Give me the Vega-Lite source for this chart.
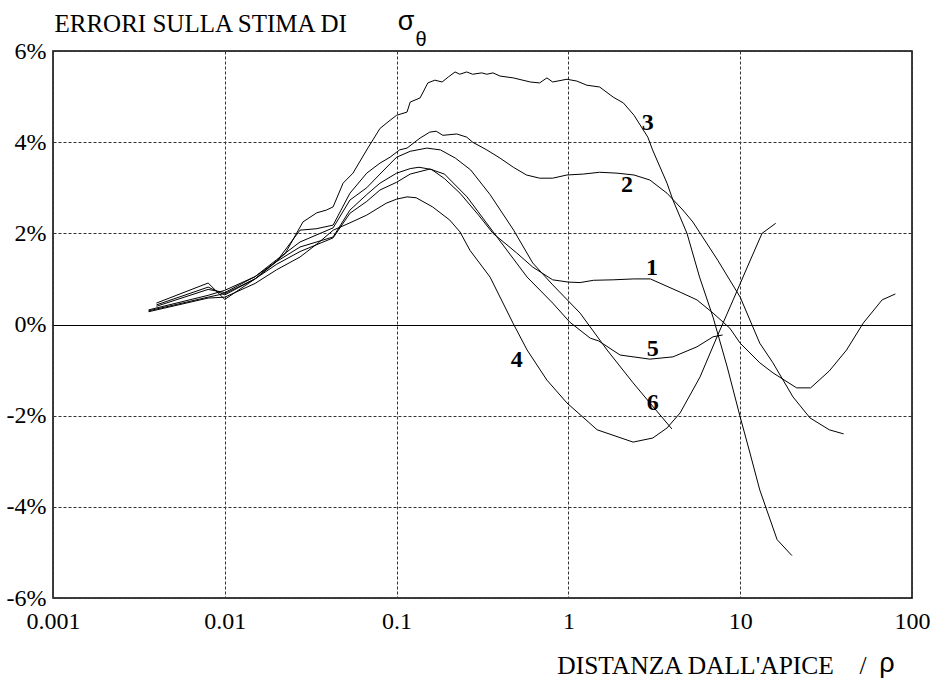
{
  "$schema": "https://vega.github.io/schema/vega-lite/v6.json",
  "width": 859,
  "height": 547,
  "autosize": "none",
  "padding": {"left": 53, "top": 51, "right": 28, "bottom": 81},
  "background": "white",
  "config": {"view": {"stroke": "black", "strokeWidth": 1.5}, "font": "Liberation Serif, Times New Roman, serif"},
  "encoding": {
    "x": {"field": "x", "type": "quantitative",
      "scale": {"type": "log", "domain": [0.001, 100], "nice": false},
      "axis": {"values": [0.001, 0.01, 0.1, 1, 10, 100], "format": "~g", "labelFlush": false, "labelOverlap": false,
        "domain": false, "ticks": false, "labelPadding": 11, "labelFont": "Liberation Serif, Times New Roman, serif", "labelFontSize": 24, "labelColor": "black",
        "grid": true, "gridColor": "#333", "gridDash": [3, 2], "gridOpacity": 1, "gridWidth": 1,
        "title": "DISTANZA DALL'APICE\u00a0\u00a0\u00a0\u00a0/", "titleFont": "Liberation Serif, Times New Roman, serif", "titleFontSize": 25.5, "titleFontWeight": "normal", "titleColor": "black",
        "titleX": 813, "titleY": 75, "titleAlign": "right", "titleBaseline": "alphabetic"}},
    "y": {"field": "y", "type": "quantitative",
      "scale": {"domain": [-6, 6], "nice": false, "zero": false},
      "axis": {"values": [-6, -4, -2, 0, 2, 4, 6], "labelExpr": "datum.value + '%'", "domain": false, "ticks": false, "labelPadding": 7,
        "labelFont": "Liberation Serif, Times New Roman, serif", "labelFontSize": 24, "labelColor": "black",
        "grid": true, "gridOpacity": 1, "gridWidth": 1,
        "gridDash": {"condition": {"test": "datum.value === 0", "value": []}, "value": [3, 2]},
        "gridColor": {"condition": {"test": "datum.value === 0", "value": "black"}, "value": "#333"},
        "title": "ERRORI SULLA STIMA DI", "titleAngle": 0, "titleAlign": "left", "titleBaseline": "alphabetic",
        "titleX": 1, "titleY": -20, "titleFont": "Liberation Serif, Times New Roman, serif", "titleFontSize": 25, "titleFontWeight": "normal", "titleColor": "black"}}
  },
  "layer": [
    {
      "data": {"values": [
        {"c":"3","x":0.004,"y":0.47},{"c":"3","x":0.008,"y":0.91},{"c":"3","x":0.01,"y":0.55},{"c":"3","x":0.015,"y":1.0},{"c":"3","x":0.0224,"y":1.55},{"c":"3","x":0.0285,"y":2.25},{"c":"3","x":0.0343,"y":2.45},{"c":"3","x":0.039,"y":2.51},{"c":"3","x":0.0427,"y":2.58},{"c":"3","x":0.0488,"y":3.1},{"c":"3","x":0.0557,"y":3.32},{"c":"3","x":0.067,"y":3.83},{"c":"3","x":0.08,"y":4.3},{"c":"3","x":0.0916,"y":4.48},{"c":"3","x":0.1,"y":4.59},{"c":"3","x":0.115,"y":4.66},{"c":"3","x":0.12,"y":4.88},{"c":"3","x":0.137,"y":4.97},{"c":"3","x":0.152,"y":5.3},{"c":"3","x":0.167,"y":5.36},{"c":"3","x":0.184,"y":5.32},{"c":"3","x":0.2,"y":5.43},{"c":"3","x":0.219,"y":5.54},{"c":"3","x":0.233,"y":5.49},{"c":"3","x":0.256,"y":5.54},{"c":"3","x":0.277,"y":5.49},{"c":"3","x":0.313,"y":5.52},{"c":"3","x":0.335,"y":5.49},{"c":"3","x":0.364,"y":5.52},{"c":"3","x":0.4,"y":5.45},{"c":"3","x":0.478,"y":5.41},{"c":"3","x":0.6,"y":5.32},{"c":"3","x":0.68,"y":5.3},{"c":"3","x":0.75,"y":5.41},{"c":"3","x":0.81,"y":5.32},{"c":"3","x":0.98,"y":5.38},{"c":"3","x":1.12,"y":5.34},{"c":"3","x":1.28,"y":5.25},{"c":"3","x":1.52,"y":5.21},{"c":"3","x":1.82,"y":4.99},{"c":"3","x":2.09,"y":4.86},{"c":"3","x":2.41,"y":4.59},{"c":"3","x":2.9,"y":4.11},{"c":"3","x":3.09,"y":3.83},{"c":"3","x":3.75,"y":3.1},{"c":"3","x":4.06,"y":2.73},{"c":"3","x":4.9,"y":2.0},{"c":"3","x":5.8,"y":1.04},{"c":"3","x":6.95,"y":0.16},{"c":"3","x":8.4,"y":-0.93},{"c":"3","x":10,"y":-2.03},{"c":"3","x":11.4,"y":-2.82},{"c":"3","x":13,"y":-3.63},{"c":"3","x":16.4,"y":-4.72},{"c":"3","x":20,"y":-5.07},
        {"c":"2","x":0.004,"y":0.43},{"c":"2","x":0.008,"y":0.82},{"c":"2","x":0.01,"y":0.65},{"c":"2","x":0.015,"y":1.0},{"c":"2","x":0.02,"y":1.38},{"c":"2","x":0.0274,"y":2.07},{"c":"2","x":0.034,"y":2.1},{"c":"2","x":0.0427,"y":2.18},{"c":"2","x":0.0535,"y":2.88},{"c":"2","x":0.067,"y":3.32},{"c":"2","x":0.08,"y":3.54},{"c":"2","x":0.0916,"y":3.67},{"c":"2","x":0.104,"y":3.83},{"c":"2","x":0.115,"y":3.87},{"c":"2","x":0.137,"y":4.09},{"c":"2","x":0.156,"y":4.22},{"c":"2","x":0.17,"y":4.24},{"c":"2","x":0.186,"y":4.15},{"c":"2","x":0.224,"y":4.18},{"c":"2","x":0.256,"y":4.11},{"c":"2","x":0.277,"y":4.0},{"c":"2","x":0.335,"y":3.83},{"c":"2","x":0.4,"y":3.65},{"c":"2","x":0.478,"y":3.45},{"c":"2","x":0.57,"y":3.28},{"c":"2","x":0.68,"y":3.21},{"c":"2","x":0.81,"y":3.21},{"c":"2","x":0.98,"y":3.28},{"c":"2","x":1.22,"y":3.3},{"c":"2","x":1.52,"y":3.34},{"c":"2","x":1.92,"y":3.32},{"c":"2","x":2.41,"y":3.28},{"c":"2","x":2.98,"y":3.17},{"c":"2","x":3.75,"y":2.88},{"c":"2","x":4.64,"y":2.51},{"c":"2","x":5.3,"y":2.25},{"c":"2","x":7.4,"y":1.41},{"c":"2","x":10,"y":0.6},{"c":"2","x":13,"y":-0.41},{"c":"2","x":15.5,"y":-0.84},{"c":"2","x":20.3,"y":-1.59},{"c":"2","x":25.5,"y":-2.05},{"c":"2","x":33,"y":-2.31},{"c":"2","x":40,"y":-2.4},
        {"c":"6","x":0.004,"y":0.4},{"c":"6","x":0.008,"y":0.77},{"c":"6","x":0.01,"y":0.7},{"c":"6","x":0.015,"y":1.05},{"c":"6","x":0.02,"y":1.42},{"c":"6","x":0.0274,"y":1.81},{"c":"6","x":0.0427,"y":2.12},{"c":"6","x":0.0535,"y":2.73},{"c":"6","x":0.067,"y":3.0},{"c":"6","x":0.08,"y":3.3},{"c":"6","x":0.1,"y":3.67},{"c":"6","x":0.12,"y":3.8},{"c":"6","x":0.15,"y":3.87},{"c":"6","x":0.18,"y":3.83},{"c":"6","x":0.22,"y":3.65},{"c":"6","x":0.27,"y":3.39},{"c":"6","x":0.35,"y":2.85},{"c":"6","x":0.48,"y":2.07},{"c":"6","x":0.62,"y":1.35},{"c":"6","x":0.81,"y":0.87},{"c":"6","x":1.17,"y":0.25},{"c":"6","x":1.68,"y":-0.56},{"c":"6","x":2.38,"y":-1.28},{"c":"6","x":2.98,"y":-1.72},{"c":"6","x":4.0,"y":-2.29},
        {"c":"1","x":0.0036,"y":0.32},{"c":"1","x":0.008,"y":0.64},{"c":"1","x":0.01,"y":0.75},{"c":"1","x":0.015,"y":1.05},{"c":"1","x":0.02,"y":1.38},{"c":"1","x":0.0274,"y":1.7},{"c":"1","x":0.0427,"y":1.92},{"c":"1","x":0.0535,"y":2.51},{"c":"1","x":0.067,"y":2.85},{"c":"1","x":0.08,"y":3.1},{"c":"1","x":0.1,"y":3.32},{"c":"1","x":0.12,"y":3.42},{"c":"1","x":0.135,"y":3.45},{"c":"1","x":0.16,"y":3.4},{"c":"1","x":0.19,"y":3.2},{"c":"1","x":0.234,"y":2.88},{"c":"1","x":0.3,"y":2.4},{"c":"1","x":0.364,"y":2.0},{"c":"1","x":0.5,"y":1.57},{"c":"1","x":0.62,"y":1.26},{"c":"1","x":0.81,"y":0.98},{"c":"1","x":1.0,"y":0.93},{"c":"1","x":1.17,"y":0.92},{"c":"1","x":1.4,"y":0.97},{"c":"1","x":1.82,"y":0.98},{"c":"1","x":2.4,"y":1.0},{"c":"1","x":3.0,"y":1.0},{"c":"1","x":4.47,"y":0.71},{"c":"1","x":5.6,"y":0.54},{"c":"1","x":6.95,"y":0.25},{"c":"1","x":8.7,"y":-0.08},{"c":"1","x":10,"y":-0.41},{"c":"1","x":13,"y":-0.84},{"c":"1","x":15.5,"y":-1.06},{"c":"1","x":21.3,"y":-1.39},{"c":"1","x":25.7,"y":-1.39},{"c":"1","x":33,"y":-1.02},{"c":"1","x":41.6,"y":-0.56},{"c":"1","x":52,"y":0.03},{"c":"1","x":67,"y":0.54},{"c":"1","x":80,"y":0.67},
        {"c":"5","x":0.0036,"y":0.3},{"c":"5","x":0.008,"y":0.6},{"c":"5","x":0.01,"y":0.68},{"c":"5","x":0.015,"y":1.0},{"c":"5","x":0.02,"y":1.32},{"c":"5","x":0.0274,"y":1.6},{"c":"5","x":0.0427,"y":1.9},{"c":"5","x":0.0535,"y":2.44},{"c":"5","x":0.067,"y":2.7},{"c":"5","x":0.08,"y":2.95},{"c":"5","x":0.1,"y":3.12},{"c":"5","x":0.12,"y":3.3},{"c":"5","x":0.156,"y":3.41},{"c":"5","x":0.19,"y":3.3},{"c":"5","x":0.257,"y":2.8},{"c":"5","x":0.384,"y":1.92},{"c":"5","x":0.575,"y":1.04},{"c":"5","x":0.81,"y":0.47},{"c":"5","x":1.02,"y":0.05},{"c":"5","x":1.34,"y":-0.3},{"c":"5","x":1.5,"y":-0.36},{"c":"5","x":2.0,"y":-0.67},{"c":"5","x":2.98,"y":-0.76},{"c":"5","x":4.06,"y":-0.71},{"c":"5","x":5.6,"y":-0.49},{"c":"5","x":6.95,"y":-0.27},{"c":"5","x":7.9,"y":-0.23},
        {"c":"4","x":0.0036,"y":0.28},{"c":"4","x":0.008,"y":0.58},{"c":"4","x":0.01,"y":0.6},{"c":"4","x":0.015,"y":0.9},{"c":"4","x":0.02,"y":1.2},{"c":"4","x":0.0274,"y":1.48},{"c":"4","x":0.035,"y":1.79},{"c":"4","x":0.0428,"y":2.07},{"c":"4","x":0.0535,"y":2.23},{"c":"4","x":0.067,"y":2.4},{"c":"4","x":0.087,"y":2.66},{"c":"4","x":0.1,"y":2.75},{"c":"4","x":0.115,"y":2.8},{"c":"4","x":0.13,"y":2.78},{"c":"4","x":0.162,"y":2.58},{"c":"4","x":0.204,"y":2.29},{"c":"4","x":0.234,"y":2.03},{"c":"4","x":0.267,"y":1.63},{"c":"4","x":0.35,"y":1.04},{"c":"4","x":0.476,"y":0.03},{"c":"4","x":0.575,"y":-0.56},{"c":"4","x":0.75,"y":-1.22},{"c":"4","x":0.98,"y":-1.72},{"c":"4","x":1.47,"y":-2.31},{"c":"4","x":2.38,"y":-2.58},{"c":"4","x":3.1,"y":-2.49},{"c":"4","x":3.75,"y":-2.27},{"c":"4","x":4.47,"y":-1.94},{"c":"4","x":5.84,"y":-1.15},{"c":"4","x":7.33,"y":-0.27},{"c":"4","x":9.1,"y":0.54},{"c":"4","x":11,"y":1.26},{"c":"4","x":13.4,"y":2.0},{"c":"4","x":16.1,"y":2.22}
      ]},
      "mark": {"type": "line", "color": "black", "strokeWidth": 1},
      "encoding": {"detail": {"field": "c", "type": "nominal"}}
    },
    {
      "data": {"values": [
        {"t":"3","x":2.9,"y":4.42},{"t":"2","x":2.19,"y":3.06},{"t":"1","x":3.07,"y":1.24},{"t":"5","x":3.1,"y":-0.54},{"t":"6","x":3.1,"y":-1.72},{"t":"4","x":0.5,"y":-0.78}
      ]},
      "mark": {"type": "text", "font": "Liberation Serif, Times New Roman, serif", "fontWeight": "bold", "fontSize": 24, "color": "black", "baseline": "middle", "align": "center"},
      "encoding": {"text": {"field": "t"}}
    },
    {
      "data": {"values": [{"t":"σ","x":0.1135,"y":6.63},{"t":"ρ","x":71.4,"y":-7.45}]},
      "mark": {"type": "text", "font": "Liberation Sans, Arial, sans-serif", "fontSize": 27, "color": "black", "baseline": "middle", "align": "center"},
      "encoding": {"text": {"field": "t"}}
    },
    {
      "data": {"values": [{"t":"θ","x":0.1387,"y":6.24}]},
      "mark": {"type": "text", "font": "Liberation Sans, Arial, sans-serif", "fontSize": 20, "color": "black", "baseline": "middle", "align": "center"},
      "encoding": {"text": {"field": "t"}}
    }
  ]
}
